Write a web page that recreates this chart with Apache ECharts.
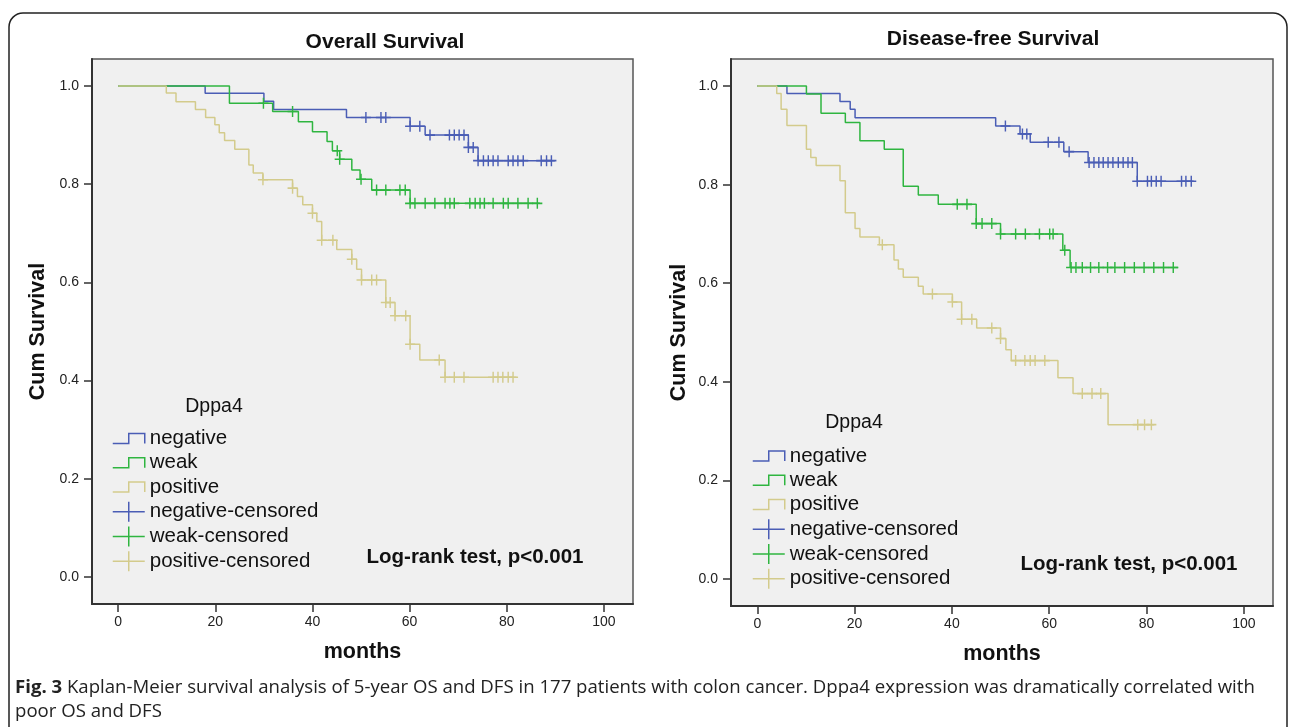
<!DOCTYPE html>
<html><head><meta charset="utf-8">
<script src="https://cdn.jsdelivr.net/npm/echarts@6/dist/echarts.min.js"></script>
<style>html,body{margin:0;padding:0;background:#fff}#c{width:1290px;height:727px}</style>
</head><body><div id="c"></div>
<script>
// ---------- data ----------
const xTicks = [0, 20, 40, 60, 80, 100];
const yTicks = [0, 0.2, 0.4, 0.6, 0.8, 1.0];
const groups = ['negative', 'weak', 'positive'];
const panelTitles = ['Overall Survival', 'Disease-free Survival'];

// [month, cumulative survival after the step]
const osNegative = [[0,1],[17.9,0.985],[30.0,0.969],[32.0,0.952],[47.0,0.936],[60.1,0.918],[63.2,0.900],[72.1,0.875],[74.1,0.848],[89.9,0.848]];
const osNegativeCensored = [51.0,54.1,55.1,60.1,62.1,64.2,68.2,69.2,70.2,71.2,72.1,73.1,74.1,75.2,76.2,77.2,78.2,80.3,81.3,82.3,83.4,87.1,88.2,89.2];
const osWeak = [[0,1],[22.9,0.965],[31.8,0.948],[37.1,0.927],[40.0,0.907],[43.0,0.887],[44.1,0.868],[45.6,0.851],[48.1,0.829],[49.8,0.810],[52.2,0.788],[60.1,0.761],[86.8,0.761]];
const osWeakCensored = [29.9,35.9,45.1,45.6,50.0,53.2,55.1,58.0,59.1,60.1,61.1,63.2,65.2,67.3,68.3,69.2,72.4,73.5,74.5,75.4,77.2,79.3,80.3,82.3,84.4,86.3];
const osPositive = [[0,1],[9.9,0.986],[11.9,0.968],[15.9,0.952],[18.0,0.936],[19.9,0.921],[20.8,0.905],[21.9,0.889],[24.0,0.871],[26.9,0.839],[27.8,0.823],[29.8,0.809],[35.9,0.792],[36.9,0.775],[38.0,0.758],[40.0,0.741],[40.9,0.724],[41.9,0.686],[45.0,0.667],[48.1,0.647],[49.1,0.627],[50.1,0.605],[55.1,0.559],[57.0,0.532],[60.1,0.474],[62.1,0.442],[67.3,0.407],[82.0,0.407]];
const osPositiveCensored = [29.8,35.9,40.0,41.9,44.2,48.1,50.1,52.2,53.2,55.1,56.0,57.0,59.2,60.1,66.1,67.3,69.2,71.2,77.2,78.2,79.2,80.3,81.3];

const dfsNegative = [[0,1],[6.1,0.985],[17.0,0.969],[19.1,0.953],[20.1,0.936],[49.0,0.919],[54.0,0.903],[56.1,0.886],[63.0,0.867],[68.0,0.845],[78.1,0.807],[89.7,0.807]];
const dfsNegativeCensored = [51.0,54.5,55.4,59.8,62.0,64.1,68.2,69.2,70.2,71.1,72.1,73.1,74.2,75.2,76.2,77.1,78.1,80.2,81.0,82.0,83.0,87.2,88.1,89.2];
const dfsWeak = [[0,1],[10.1,0.984],[13.1,0.945],[18.1,0.926],[21.1,0.889],[26.1,0.872],[30.0,0.797],[33.1,0.779],[37.2,0.760],[45.0,0.721],[50.0,0.700],[62.8,0.667],[64.3,0.632],[86.5,0.632]];
const dfsWeakCensored = [41.1,43.1,45.0,46.2,48.2,50.0,53.1,55.1,58.0,60.1,60.8,63.2,64.5,65.5,66.8,68.5,70.2,72.0,73.5,75.5,77.5,79.5,81.5,83.5,85.5];
const dfsPositive = [[0,1],[4.0,0.985],[4.9,0.953],[6.1,0.920],[10.1,0.872],[11.0,0.855],[12.1,0.839],[17.0,0.808],[18.1,0.743],[20.1,0.711],[21.1,0.694],[25.1,0.678],[28.1,0.647],[29.0,0.629],[30.0,0.612],[33.1,0.594],[34.1,0.578],[40.1,0.562],[42.0,0.527],[45.1,0.509],[50.0,0.488],[51.1,0.465],[52.2,0.443],[61.8,0.408],[64.9,0.376],[72.1,0.313],[81.6,0.313]];
const dfsPositiveCensored = [25.7,36.0,40.1,42.0,44.1,48.2,50.0,53.1,55.0,56.1,57.1,59.1,66.8,68.8,70.6,78.2,79.6,81.0];

const legendTitle = 'Dppa4';
const testText = 'Log-rank test, p<0.001';
const captionBold = 'Fig. 3';
const captionLine1 = ' Kaplan-Meier survival analysis of 5-year OS and DFS in 177 patients with colon cancer. Dppa4 expression was dramatically correlated with';
const captionLine2 = 'poor OS and DFS';

// ---------- styling ----------
const colors = { negative: '#4a5db5', weak: '#2fb540', positive: '#d3cb8c' };
const FONT = '"Liberation Sans", Arial, sans-serif';
const stepIcon = 'path://M0,10L16,10L16,0L32,0L32,10';
const plusIcon = 'path://M0,10L32,10M16,0L16,20';
const plusSymbol = 'path://M0,0L20,0M10,-11L10,11';

const panels = [
  { steps: [osNegative, osWeak, osPositive], cens: [osNegativeCensored, osWeakCensored, osPositiveCensored] },
  { steps: [dfsNegative, dfsWeak, dfsPositive], cens: [dfsNegativeCensored, dfsWeakCensored, dfsPositiveCensored] }
];

function levelAt(steps, t) {
  let v = steps[0][1];
  for (const s of steps) { if (s[0] <= t + 1e-9) v = s[1]; }
  return v;
}

const grids = [
  { left: 92, top: 59, width: 541, height: 545 },
  { left: 731, top: 59, width: 542, height: 547 }
];

const xAxes = grids.map((g, i) => ({
  type: 'value', gridIndex: i, min: -5.4, max: 106,
  name: 'months', nameLocation: 'middle', nameGap: 37,
  nameTextStyle: { fontFamily: FONT, fontSize: 21.5, fontWeight: 'bold', color: '#111' },
  axisLine: { show: true, onZero: false, lineStyle: { color: '#333', width: 2 } },
  axisTick: { show: true, inside: false, length: 8, lineStyle: { color: '#333', width: 1.5 }, customValues: xTicks },
  axisLabel: { show: true, margin: 11, fontFamily: FONT, fontSize: 14, color: '#222', customValues: xTicks },
  splitLine: { show: false }
}));
const yAxes = grids.map((g, i) => ({
  type: 'value', gridIndex: i, min: -0.055, max: 1.055,
  name: 'Cum Survival', nameLocation: 'middle', nameGap: i === 0 ? 43 : 41, nameRotate: 90,
  nameTextStyle: { fontFamily: FONT, fontSize: 21.5, fontWeight: 'bold', color: '#111' },
  axisLine: { show: true, onZero: false, lineStyle: { color: '#333', width: 2 } },
  axisTick: { show: true, inside: false, length: 8, lineStyle: { color: '#333', width: 1.5 }, customValues: yTicks },
  axisLabel: { show: true, margin: 13, fontFamily: FONT, fontSize: 14, color: '#222', customValues: yTicks,
    formatter: v => v.toFixed(1) },
  splitLine: { show: false }
}));

const series = [];
panels.forEach((p, pi) => {
  groups.forEach((g, gi) => {
    series.push({
      name: g, type: 'line', step: 'end', xAxisIndex: pi, yAxisIndex: pi,
      data: p.steps[gi], symbol: 'none', showSymbol: false, silent: true,
      lineStyle: { color: colors[g], width: 1.5 }, itemStyle: { color: colors[g] }, z: 2 + gi
    });
  });
  groups.forEach((g, gi) => {
    series.push({
      name: g + '-censored', type: 'scatter', xAxisIndex: pi, yAxisIndex: pi,
      data: p.cens[gi].map(t => [t, levelAt(p.steps[gi], t)]),
      symbol: plusSymbol, symbolSize: [10, 11], silent: true,
      itemStyle: { color: 'rgba(0,0,0,0)', borderColor: colors[g], borderWidth: 1.5, opacity: 1 }, z: 3 + gi
    });
  });
});

function legendData() {
  const d = [];
  groups.forEach(g => d.push({ name: g, icon: stepIcon, itemStyle: { color: 'rgba(0,0,0,0)', borderColor: colors[g], borderWidth: 1.5 } }));
  groups.forEach(g => d.push({ name: g + '-censored', icon: plusIcon, itemStyle: { color: 'rgba(0,0,0,0)', borderColor: colors[g], borderWidth: 1.5 } }));
  return d;
}
const legends = [
  { left: 112, top: 428 },
  { left: 752, top: 445.5 }
].map(pos => ({
  show: true, orient: 'vertical', left: pos.left, top: pos.top, padding: 0,
  itemWidth: 32, itemHeight: 20, itemGap: 3.3, selectedMode: false,
  textStyle: { fontFamily: FONT, fontSize: 20.5, lineHeight: 20, color: '#111' },
  data: legendData()
}));

const graphics = [
  { type: 'rect', shape: { x: 9, y: 13, width: 1278, height: 800, r: 14 }, style: { fill: 'none', stroke: '#222', lineWidth: 1.5 }, silent: true, z: -10 },
  { type: 'text', x: 385, y: 42, style: { text: panelTitles[0], font: 'bold 21px "Liberation Sans"', fill: '#111', align: 'center', verticalAlign: 'middle' } },
  { type: 'text', x: 993, y: 39, style: { text: panelTitles[1], font: 'bold 21px "Liberation Sans"', fill: '#111', align: 'center', verticalAlign: 'middle' } },
  { type: 'text', x: 214, y: 407, style: { text: legendTitle, font: '19.5px "Liberation Sans"', fill: '#111', align: 'center', verticalAlign: 'middle' } },
  { type: 'text', x: 854, y: 423, style: { text: legendTitle, font: '19.5px "Liberation Sans"', fill: '#111', align: 'center', verticalAlign: 'middle' } },
  { type: 'text', x: 475, y: 557, style: { text: testText, font: 'bold 20.5px "Liberation Sans"', fill: '#111', align: 'center', verticalAlign: 'middle' } },
  { type: 'text', x: 1129, y: 564, style: { text: testText, font: 'bold 20.5px "Liberation Sans"', fill: '#111', align: 'center', verticalAlign: 'middle' } },
  { type: 'text', x: 15, y: 688, style: { text: '{b|' + captionBold + '}' + captionLine1, fontFamily: 'Open Sans', fontSize: 18.6, fill: '#222', verticalAlign: 'middle',
      rich: { b: { fontWeight: 'bold', fontFamily: 'Open Sans', fontSize: 18.6, fill: '#222' } } } },
  { type: 'text', x: 15, y: 712, style: { text: captionLine2, fontFamily: 'Open Sans', fontSize: 18.6, fill: '#222', verticalAlign: 'middle' } }
];

const chart = echarts.init(document.getElementById('c'), null, { renderer: 'canvas' });
chart.setOption({
  backgroundColor: '#ffffff',
  animation: false,
  grid: grids.map(g => Object.assign({ show: true, backgroundColor: '#f0f0f0', borderColor: '#555', borderWidth: 1.5 }, g)),
  xAxis: xAxes,
  yAxis: yAxes,
  legend: legends,
  series: series,
  graphic: graphics
});
</script>
</body></html>
